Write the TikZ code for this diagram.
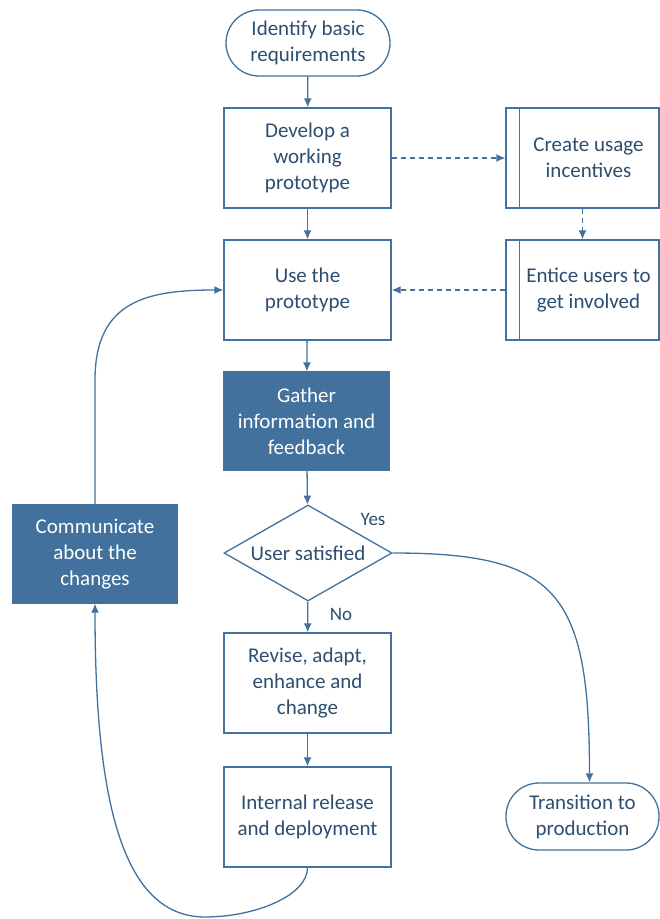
\documentclass[tikz,border=0pt]{standalone}
\usepackage{fontspec}
\setmainfont{Carlito}
\usetikzlibrary{arrows.meta,shapes.geometric}
\definecolor{flowline}{RGB}{65,113,156}
\definecolor{flowtext}{RGB}{44,78,112}
\definecolor{flowfill}{RGB}{65,113,156}
\begin{document}
\begin{tikzpicture}[x=1pt,y=-1pt,
  every node/.style={font=\fontsize{21}{26}\selectfont, text=flowtext, align=center, inner sep=0pt},
  box/.style={draw=flowline, line width=1.3pt, minimum width=167pt, minimum height=100pt, fill=white},
  darkbox/.style={box, fill=flowfill, draw=flowfill, text=white},
  terminal/.style={draw=flowline, line width=1.3pt, rounded corners=33pt, minimum height=66pt},
  subproc/.style={box, minimum width=153pt},
  decision/.style={diamond, draw=flowline, line width=1.3pt, aspect=1.75, minimum width=168pt, minimum height=96pt},
  flow/.style={draw=flowline, line width=1.3pt, -{Latex[length=9pt,width=8pt]}},
  dflow/.style={flow, dashed, dash pattern=on 5pt off 4pt},
  lbl/.style={font=\fontsize{19}{22}\selectfont}
]
\useasboundingbox (0,0) rectangle (660,919);

% main column
\node[terminal, minimum width=164pt] (start) at (308,43) {Identify basic\\requirements};
\node[box] (dev) at (307.5,158) {Develop a\\working\\prototype};
\node[box] (use) at (307.5,290) {Use the\\prototype};
\node[darkbox, minimum width=165pt, minimum height=98pt] (gat) at (306.5,421) {Gather\\information and\\feedback};
\node[decision] (dec) at (308,553) {User satisfied};
\node[box] (rev) at (307.5,683) {Revise, adapt,\\enhance and\\change};
\node[box] (rel) at (307.5,817) {Internal release\\and deployment};

% side column: predefined processes
\node[subproc] (cre) at (582.5,158) {\hspace*{12pt}Create usage\\\hspace*{12pt}incentives};
\node[subproc] (ent) at (582.5,290) {\hspace*{12pt}Entice users to\\\hspace*{12pt}get involved};
\foreach \n in {cre,ent}
  \draw[flowline, line width=1.3pt] ([xshift=14pt]\n.north west) -- ([xshift=14pt]\n.south west);

% feedback loop box and exit
\node[darkbox, minimum width=164pt, minimum height=98pt] (com) at (95,554) {Communicate\\about the\\changes};
\node[terminal, minimum width=153pt, minimum height=67pt] (tra) at (582.5,816.5) {Transition to\\production};

% connectors
\draw[flow] (start) -- (dev);
\draw[flow] (dev) -- (use);
\draw[flow] (use) -- (gat);
\draw[flow] (gat) -- (dec);
\draw[flow] (dec) -- (rev);
\draw[flow] (rev) -- (rel);
\draw[dflow] (dev) -- (cre);
\draw[dflow] (cre) -- (ent);
\draw[dflow] (ent) -- (use);

\coordinate (loopbot) at (205,917);
\coordinate (comtop) at (95,380);
\draw[flow] (rel.south) .. controls +(0,28) and +(50,0) .. (loopbot)
  .. controls +(-85,0) and +(0,190) .. (com.south);
\draw[flow] (com.north) -- (comtop) .. controls +(0,-80) and +(-75,0) .. (use.west);
\draw[flow] (dec.east) .. controls +(165,0) and +(0,-190) .. ([xshift=7pt]tra.north);

% decision labels
\node[lbl] (yes) at (373,519) {Yes};
\node[lbl] (no) at (341,614) {No};
\end{tikzpicture}
\end{document}
